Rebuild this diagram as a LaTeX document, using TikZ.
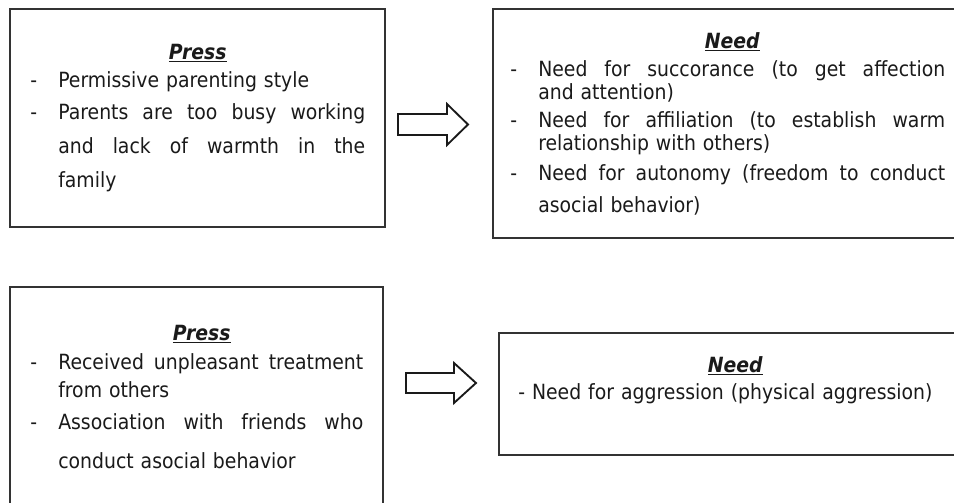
\documentclass[tikz,border=0pt]{standalone}
\usepackage{fontspec}
\setmainfont{DejaVu Sans}[FakeStretch=0.9]
\usetikzlibrary{fit}

% underlined bold italic heading of a box
\newcommand{\heading}[1]{\setbox0=\hbox{\bfseries\itshape #1}\makebox[0pt][l]{\rule[-2.4pt]{\wd0}{1.3pt}}\box0}
\newcommand{\dashcol}{\makebox[21pt][l]{-}}
\newcommand{\skipcol}{\hspace*{21pt}}
% justified line: word spaces stretched to the given width
\newcommand{\spreadline}[2]{\hbox to #1{\spaceskip=.3em plus 1fil\relax #2}}

\tikzset{
  panel/.style={draw={rgb, 255:red, 51; green, 51; blue, 51}, line width=1.4pt, inner sep=0pt},
  panetext/.style={anchor=north west, inner sep=0pt, align=left,
    text={rgb, 255:red, 26; green, 26; blue, 26},
    font={\fontsize{15.7pt}{0pt}\selectfont\lineskiplimit=-100pt}},
  blockarrow/.style={draw={rgb, 255:red, 26; green, 26; blue, 26}, line width=1.4pt, fill=white}
}

\begin{document}
\begin{tikzpicture}[x=0.75pt,y=0.75pt,yscale=-1,xscale=1]
%set diagram to 954 x 503
\path[use as bounding box] (0,0) rectangle (954,503);
\clip (0,0) rectangle (954,503);

%Shape: Rectangle [press, top]
\node[panel, fit={(10,9) (385,227)}] (pressTop) {};
\node[panetext, text width=251.25pt] (pressTopText) at (30,43) {\noindent
\makebox[251.25pt]{\rule{0pt}{12pt}\heading{Press}}\\[21pt]
\dashcol Permissive parenting style\\[24pt]
\dashcol\spreadline{230.25pt}{Parents are too busy working}\\[25.5pt]
\skipcol\spreadline{230.25pt}{and lack of warmth in the}\\[25.5pt]
\skipcol family};

%Shape: Rectangle [need, top]
\node[panel, fit={(493,9) (971,238)}] (needTop) {};
\node[panetext, text width=326.25pt] (needTopText) at (510,32) {\noindent
\makebox[326.25pt]{\rule{0pt}{12pt}\hspace{6.75pt}\heading{Need}}\\[21pt]
\dashcol\spreadline{305.25pt}{Need for succorance (to get affection}\\[17.25pt]
\skipcol and attention)\\[21pt]
\dashcol\spreadline{305.25pt}{Need for affiliation (to establish warm}\\[17.25pt]
\skipcol relationship with others)\\[22.5pt]
\dashcol\spreadline{305.25pt}{Need for autonomy (freedom to conduct}\\[24pt]
\skipcol asocial behavior)};

%Shape: Rectangle [press, bottom]
\node[panel, fit={(10,287) (383,520)}] (pressBottom) {};
\node[panetext, text width=249.75pt] (pressBottomText) at (30,324) {\noindent
\makebox[249.75pt]{\rule{0pt}{12pt}\hspace{7.5pt}\heading{Press}}\\[21.75pt]
\dashcol\spreadline{228.75pt}{Received unpleasant treatment}\\[21pt]
\skipcol from others\\[24pt]
\dashcol\spreadline{228.75pt}{Association with friends who}\\[29.25pt]
\skipcol conduct asocial behavior};

%Shape: Rectangle [need, bottom]
\node[panel, fit={(499,333) (971,455)}] (needBottom) {};
\node[panetext, text width=325.5pt] (needBottomText) at (518,356) {\noindent
\makebox[325.5pt]{\rule{0pt}{12pt}\heading{Need}}\\[20.25pt]
- Need for aggression (physical aggression)};

%Shape: Right Arrow [top]
\coordinate (arrowTop) at (398,124.5);
\draw[blockarrow] (arrowTop) ++(0,-10.5) -- ++(49,0) -- ++(0,-10) -- ++(21,20.5) -- ++(-21,20.5) -- ++(0,-10) -- ++(-49,0) -- cycle;

%Shape: Right Arrow [bottom]
\coordinate (arrowBottom) at (406,383);
\draw[blockarrow] (arrowBottom) ++(0,-10) -- ++(48,0) -- ++(0,-10) -- ++(22,20) -- ++(-22,20) -- ++(0,-10) -- ++(-48,0) -- cycle;
\end{tikzpicture}
\end{document}
